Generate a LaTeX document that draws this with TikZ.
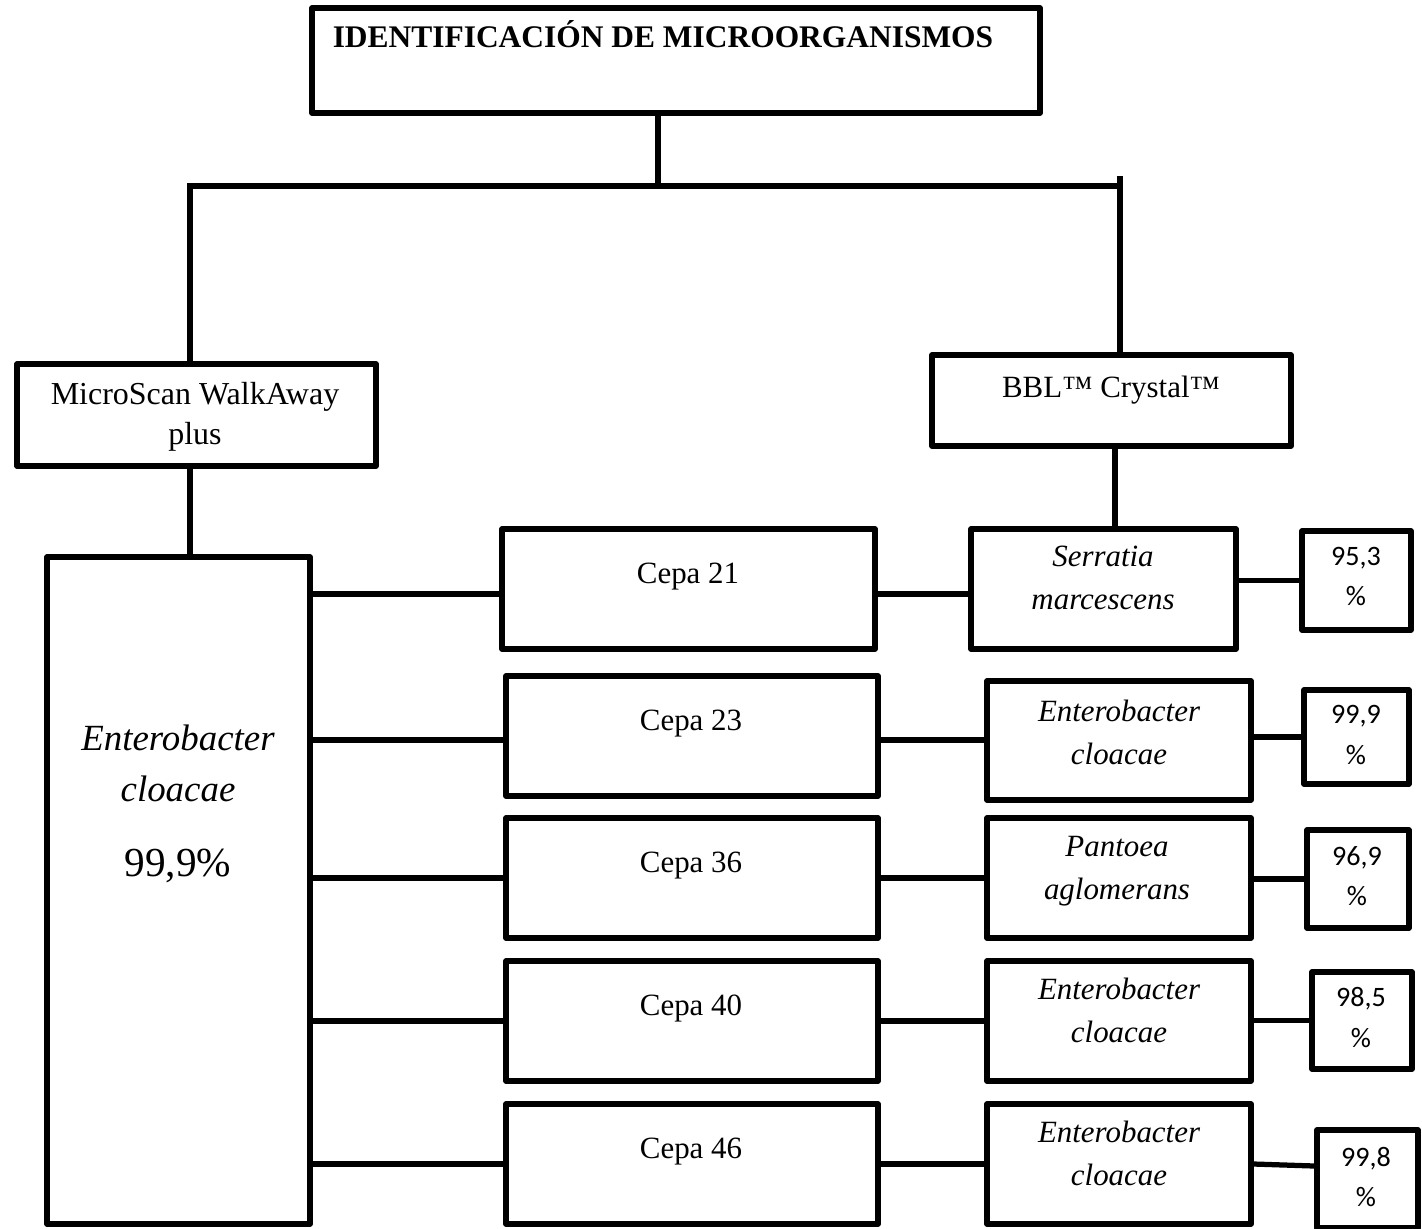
\documentclass[tikz,border=0pt]{standalone}
\usepackage{fontspec}
\setmainfont{Liberation Serif}
\newfontfamily\pctfont{Carlito}
\newlength{\pxl}
\setlength{\pxl}{0.02cm}
\tikzset{
	box/.style 2 args={draw, line width=0.105cm, line join=round, minimum width=#1*\pxl, minimum height=#2*\pxl, inner sep=0pt},
	link/.style={line width=0.105cm},
	txt/.style={align=center, inner sep=0pt, font=\fontsize{17.6}{24.5}\selectfont},
	spc/.style={txt, font=\fontsize{17.6}{24.5}\selectfont\itshape},
	pct/.style={align=center, inner sep=0pt, font=\pctfont\fontsize{16}{22.8}\selectfont}
}

\begin{document}
\begin{tikzpicture}[x=0.02cm, y=-0.02cm]
	\useasboundingbox (0,0) rectangle (1422,1228);
	
	\node[box={728}{105}] (top) at (676,60.5) {};
	\node[box={359}{102}] (ms) at (196.5,415) {};
	\node[box={359}{91}] (bbl) at (1111.5,400.5) {};
	\node[box={263}{667}] (big) at (178.5,890.5) {};
	
	\node[txt, anchor=base, font=\fontsize{17.9}{20}\selectfont\bfseries] (toptxt) at (663,47) {IDENTIFICACIÓN DE MICROORGANISMOS};
	\node[txt, font=\fontsize{18.2}{22.8}\selectfont] (mstxt) at (195,417) {MicroScan WalkAway\\plus};
	\node[txt, anchor=base] (bbltxt) at (1111,397) {BBL™ Crystal™};
	\node[txt, font=\fontsize{21}{29}\selectfont] (bigtxt) at (178,804) {\textit{Enterobacter}\\\textit{cloacae}\\[13.5pt]{\fontsize{23.5}{29}\selectfont 99,9\%}};
	
	\node[box={373}{120}] (c21) at (688.5,589) {};
	\node[box={372}{120}] (c23) at (692,736) {};
	\node[box={372}{120}] (c36) at (692,878) {};
	\node[box={372}{120}] (c40) at (692,1021) {};
	\node[box={372}{120}] (c46) at (692,1164) {};
	
	\node[txt, anchor=base] (c21txt) at (688,583) {Cepa 21};
	\node[txt, anchor=base] (c23txt) at (691,730) {Cepa 23};
	\node[txt, anchor=base] (c36txt) at (691,872) {Cepa 36};
	\node[txt, anchor=base] (c40txt) at (691,1015) {Cepa 40};
	\node[txt, anchor=base] (c46txt) at (691,1158) {Cepa 46};
	
	\node[box={265}{120}] (s21) at (1103.5,589) {};
	\node[box={264}{119}] (s23) at (1119,740.5) {};
	\node[box={264}{120}] (s36) at (1119,878) {};
	\node[box={264}{120}] (s40) at (1119,1021) {};
	\node[box={264}{120}] (s46) at (1119,1164) {};
	
	\node[spc] (s21txt) at (1103,578) {Serratia\\marcescens};
	\node[spc] (s23txt) at (1119,732) {Enterobacter\\cloacae};
	\node[spc] (s36txt) at (1117,871) {Pantoea\\aglomerans};
	\node[spc] (s40txt) at (1119,1010) {Enterobacter\\cloacae};
	\node[spc] (s46txt) at (1119,1153.5) {Enterobacter\\cloacae};
	
	\node[box={109}{99}] (p21) at (1356.5,580.5) {};
	\node[box={105}{94}] (p23) at (1356.5,737) {};
	\node[box={102}{98}] (p36) at (1358,879) {};
	\node[box={100}{97}] (p40) at (1362,1020.5) {};
	\node[box={101}{98}] (p46) at (1367.5,1179) {};
	
	\node[pct] (p21txt) at (1356,576.5) {95,3\\\%};
	\node[pct] (p23txt) at (1356,735) {99,9\\\%};
	\node[pct] (p36txt) at (1357,876.5) {96,9\\\%};
	\node[pct] (p40txt) at (1361,1017.5) {98,5\\\%};
	\node[pct] (p46txt) at (1366,1177) {99,8\\\%};
	
	\coordinate (hub) at (658,186);
	\coordinate (rtop) at (1120,176);
	\draw[link] (top.south -| hub) -- (hub);
	\draw[link] ([xshift=-6.5*\pxl]ms.north) |- (hub) -- (rtop |- hub);
	\draw[link] (rtop) -- (rtop |- bbl.north);
	\draw[link] ([xshift=-6.5*\pxl]ms.south) -- ([xshift=-6.5*\pxl]ms.south |- big.north);
	\draw[link] ([xshift=3.5*\pxl]bbl.south) -- ([xshift=3.5*\pxl]bbl.south |- s21.north);
	
	\draw[link] ([yshift=-5*\pxl]big.east |- c21) -- ([yshift=-5*\pxl]c21.west);
	\draw[link] ([yshift=-4*\pxl]big.east |- c23) -- ([yshift=-4*\pxl]c23.west);
	\draw[link] (big.east |- c36) -- (c36.west);
	\draw[link] (big.east |- c40) -- (c40.west);
	\draw[link] (big.east |- c46) -- (c46.west);
	
	\draw[link] ([yshift=-5*\pxl]c21.east) -- ([yshift=-5*\pxl]s21.west);
	\draw[link] ([yshift=-4*\pxl]c23.east) -- ([yshift=-4*\pxl]s23.west |- c23);
	\draw[link] (c36.east) -- (s36.west);
	\draw[link] (c40.east) -- (s40.west);
	\draw[link] (c46.east) -- (s46.west);
	
	\draw[link] (s21.east |- p21) -- (p21.west);
	\draw[link] (s23.east |- p23) -- (p23.west);
	\draw[link] (s36.east |- p36) -- (p36.west);
	\draw[link] (s40.east |- p40) -- (p40.west);
	\draw[link] (s46.east) -- ([yshift=13*\pxl]p46.west);
\end{tikzpicture}
\end{document}
